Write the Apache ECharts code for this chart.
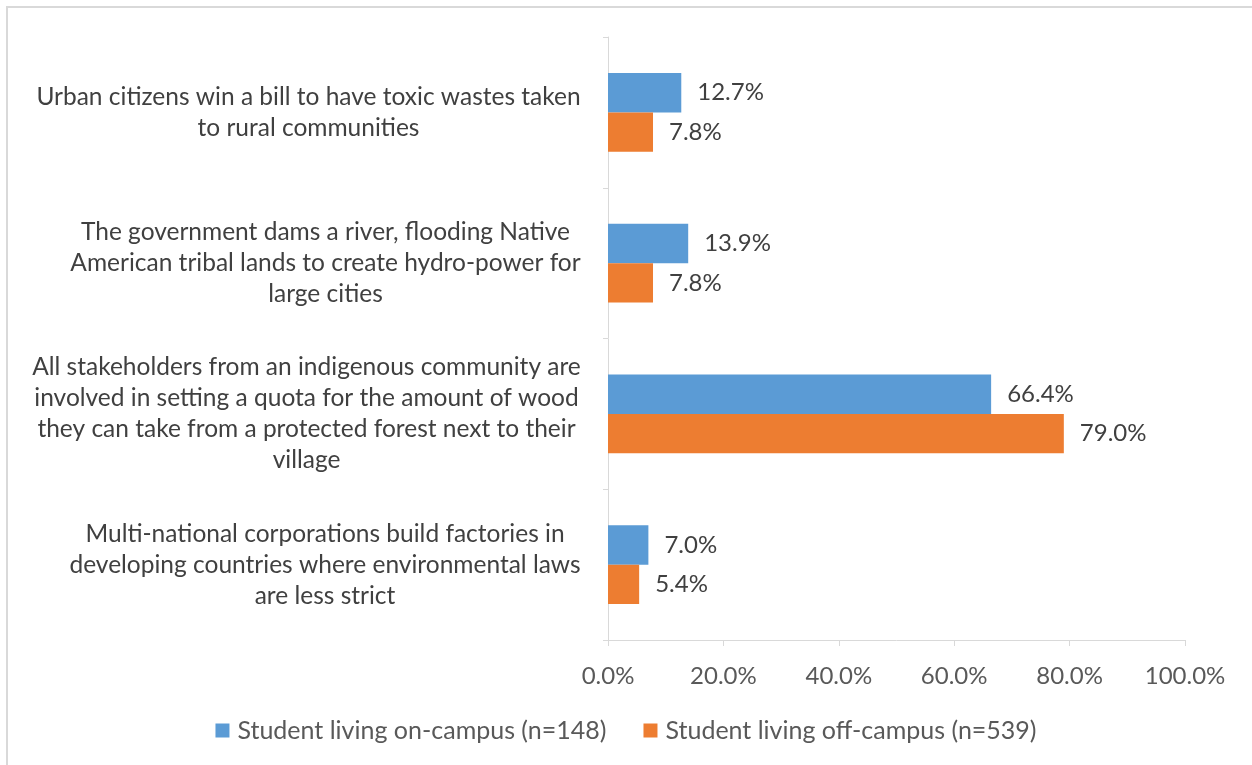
<!DOCTYPE html>
<html>
<head>
<meta charset="utf-8">
<script src="https://cdn.jsdelivr.net/npm/echarts@6/dist/echarts.min.js"></script>
<style>
  html, body { margin: 0; padding: 0; background: #fff; }
  #chart { width: 1252px; height: 765px; }
</style>
</head>
<body>
<div id="chart"></div>
<script>
// Scenario statements, listed top to bottom
const categories = [
  'Urban citizens win a bill to have toxic wastes taken\nto rural communities',
  'The government dams a river, flooding Native\nAmerican tribal lands to create hydro-power for\nlarge cities',
  'All stakeholders from an indigenous community are\ninvolved in setting a quota for the amount of wood\nthey can take from a protected forest next to their\nvillage',
  'Multi-national corporations build factories in\ndeveloping countries where environmental laws\nare less strict'
];
const seriesNames = ['Student living on-campus (n=148)', 'Student living off-campus (n=539)'];
const onCampus = [12.7, 13.9, 66.4, 7.0];
const offCampus = [7.8, 7.8, 79.0, 5.4];
const xTicks = [0, 20, 40, 60, 80, 100];

const FONT = 'Lato';
const FS = 24;
const CAT_FS = 24.5;

// Measure each statement so its lines can be centred inside a right-aligned block
const ctx = document.createElement('canvas').getContext('2d');
ctx.font = CAT_FS + 'px ' + FONT;
const rich = {};
categories.forEach((c, i) => {
  const w = Math.max(...c.split('\n').map(s => ctx.measureText(s).width));
  rich['c' + i] = { width: Math.ceil(w), align: 'center', fontFamily: FONT, fontSize: CAT_FS, color: '#404040', lineHeight: 31 };
});

const chart = echarts.init(document.getElementById('chart'), null, { renderer: 'canvas' });
chart.setOption({
  backgroundColor: '#fff',
  animation: false,
  textStyle: { fontFamily: FONT },
  graphic: [{
    type: 'rect', shape: { x: 7, y: 7, width: 2000, height: 2000 },
    style: { fill: 'none', stroke: '#D9D9D9', lineWidth: 2 }, silent: true, z: -1
  }],
  grid: { left: 608, right: 67, top: 37, bottom: 125, containLabel: false },
  legend: {
    bottom: 17, left: 'center',
    itemWidth: 14, itemHeight: 14, itemGap: 37,
    icon: 'rect',
    textStyle: { fontFamily: FONT, fontSize: 25, color: '#595959', padding: [0, 0, 0, 3] },
    data: seriesNames
  },
  xAxis: {
    type: 'value', min: 0, max: 100, interval: 20,
    axisLine: { show: true, lineStyle: { color: '#D9D9D9', width: 1 } },
    axisTick: { show: true, length: 6, lineStyle: { color: '#D9D9D9' } },
    splitLine: { show: false },
    axisLabel: {
      margin: 24, fontFamily: FONT, fontSize: FS, color: '#595959',
      formatter: v => xTicks.includes(v) ? v.toFixed(1) + '%' : ''
    }
  },
  yAxis: {
    type: 'category', inverse: true, data: categories,
    axisLine: { show: true, lineStyle: { color: '#D9D9D9', width: 1 } },
    axisTick: { show: true, length: 5, lineStyle: { color: '#D9D9D9' } },
    axisLabel: {
      margin: 27, align: 'right',
      formatter: (v, i) => v.split('\n').map(s => '{c' + i + '|' + s + '}').join('\n'),
      rich: rich
    }
  },
  series: [
    {
      name: seriesNames[0], type: 'bar', data: onCampus,
      barGap: '0%', barCategoryGap: '47.6%',
      itemStyle: { color: '#5B9BD5' },
      label: { show: true, position: 'right', distance: 16, fontFamily: FONT, fontSize: FS, color: '#404040',
               formatter: p => p.value.toFixed(1) + '%' }
    },
    {
      name: seriesNames[1], type: 'bar', data: offCampus,
      barGap: '0%', barCategoryGap: '47.6%',
      itemStyle: { color: '#ED7D31' },
      label: { show: true, position: 'right', distance: 16, fontFamily: FONT, fontSize: FS, color: '#404040',
               formatter: p => p.value.toFixed(1) + '%' }
    }
  ]
});
</script>
</body>
</html>
